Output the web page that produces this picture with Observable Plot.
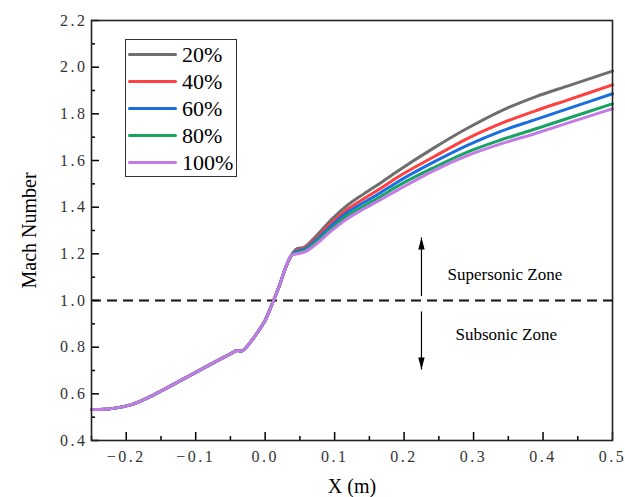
<!DOCTYPE html>
<html><head><meta charset="utf-8">
<script src="https://cdn.jsdelivr.net/npm/d3@7"></script>
<script src="https://cdn.jsdelivr.net/npm/@observablehq/plot@0.6"></script>
<style>
body{margin:0;background:#fff;}
#wrap{position:relative;width:625px;height:497px;background:#fff;}
#legend{position:absolute;left:125px;top:39px;width:112px;height:138px;border:1.5px solid #333;box-sizing:border-box;font-family:"Liberation Serif",serif;font-size:22px;color:#000;background:#fff;}
.row{position:absolute;left:2px;height:27px;display:flex;align-items:center;}
.sw{width:49px;height:3.5px;margin-right:5px;border-radius:2px;}
svg g[aria-label="y-axis tick label"] text, svg g[aria-label="x-axis tick label"] text{font-family:"Liberation Serif",serif;font-size:16px;letter-spacing:2.5px;fill:#333;}
svg g[aria-label="y-axis label"] text, svg g[aria-label="x-axis label"] text{font-family:"Liberation Serif",serif;font-size:20px;fill:#000;}
</style></head>
<body><div id="wrap"></div>
<script>
// ---- data ----
const xs = [-0.25,-0.23,-0.21,-0.19,-0.17,-0.15,-0.13,-0.11,-0.09,-0.07,-0.05,-0.04,-0.035,-0.02,-0.01,0,0.01,0.02,0.03,0.038,
            0.046,0.056,0.071,0.094,0.118,0.142,0.166,0.19,0.243,0.291,0.339,0.39,0.435,0.5];
const common = [0.533,0.534,0.542,0.556,0.582,0.612,0.644,0.676,0.708,0.740,0.771,0.786,0.783,0.826,0.868,0.915,0.985,1.060,1.145,1.195];
const tail20  = [1.222,1.228,1.269,1.343,1.407,1.457,1.504,1.553,1.654,1.738,1.812,1.874,1.919,1.983];
const tail40  = [1.216,1.224,1.260,1.328,1.390,1.436,1.480,1.527,1.616,1.694,1.758,1.814,1.859,1.924];
const tail60  = [1.212,1.219,1.253,1.317,1.377,1.420,1.462,1.507,1.594,1.665,1.725,1.776,1.821,1.886];
const tail80  = [1.206,1.213,1.245,1.305,1.363,1.405,1.446,1.489,1.570,1.636,1.688,1.736,1.780,1.843];
const tail100 = [1.200,1.207,1.236,1.295,1.350,1.393,1.432,1.472,1.557,1.621,1.671,1.717,1.760,1.822];
const seriesNames = ["20%","40%","60%","80%","100%"];
const seriesColors = ["#6e6e6e","#ff4040","#1a6ee0","#17a463","#c57be6"];
const xTicks = [-0.2,-0.1,0,0.1,0.2,0.3,0.4,0.5];
const xMinor = [-0.25,-0.15,-0.05,0.05,0.15,0.25,0.35,0.45];
const yTicks = [0.4,0.6,0.8,1.0,1.2,1.4,1.6,1.8,2.0,2.2];
const yMinor = [0.5,0.7,0.9,1.1,1.3,1.5,1.7,1.9,2.1];
const sonicLine = [1.0];
const arrowX = [0.225,0.225];
const arrowFrom = [1.019,0.953];
const arrowTo = [1.27,0.704];
const arrowRot = [0,180];
const zoneText = ["Supersonic Zone","Subsonic Zone"];
const zoneX = [0.345,0.347];
const zoneY = [1.11,0.854];

// ---- build ----
const tails = [tail20,tail40,tail60,tail80,tail100];
const rows = [];
seriesNames.forEach((s,i)=>{
  const ys = common.concat(tails[i]);
  xs.forEach((x,j)=>rows.push({x, y: ys[j], s}));
});
const arrows = arrowX.map((x,i)=>({x, y1: arrowFrom[i], y2: arrowTo[i], r: arrowRot[i]}));
const zones = zoneText.map((t,i)=>({t, x: zoneX[i], y: zoneY[i]}));
const head = {draw(c){ c.moveTo(0,0); c.lineTo(3.2,12); c.lineTo(-3.2,12); c.closePath(); }};

const chart = Plot.plot({
  width: 625, height: 497,
  marginLeft: 91, marginRight: 13, marginTop: 20, marginBottom: 57,
  style: {background: "#fff", fontFamily: "Liberation Serif, serif"},
  x: {domain: [-0.25, 0.5]},
  y: {domain: [0.4, 2.2]},
  color: {domain: seriesNames, range: seriesColors},
  marks: [
    Plot.ruleY(sonicLine, {stroke: "#111", strokeWidth: 2, strokeDasharray: "10,6"}),
    Plot.line(rows, {x: "x", y: "y", z: "s", stroke: "s", strokeWidth: 3, curve: "monotone-x"}),
    Plot.link(arrows, {x1: "x", x2: "x", y1: "y1", y2: "y2", stroke: "#000", strokeWidth: 1.2}),
    Plot.dot(arrows, {x: "x", y: "y2", symbol: head, rotate: "r", fill: "#000", stroke: "none", r: 4}),
    Plot.text(zones, {x: "x", y: "y", text: "t", fontSize: 17, fontFamily: "Liberation Serif, serif", fill: "#000"}),
    Plot.axisY(yMinor, {tickSize: -4, tickFormat: () => "", strokeWidth: 1.5, label: null}),
    Plot.axisX(xMinor, {tickSize: -4, tickFormat: () => "", strokeWidth: 1.5, label: null}),
    Plot.axisY(yTicks, {tickSize: -8, tickPadding: 12, tickFormat: d => d.toFixed(1), strokeWidth: 1.5,
      label: "Mach Number", labelAnchor: "center", labelOffset: 70, labelArrow: false}),
    Plot.axisX(xTicks, {tickSize: -8, tickPadding: 18, tickFormat: d3.format(".1f"), strokeWidth: 1.5,
      label: "X (m)", labelAnchor: "center", labelOffset: 52, labelArrow: false}),
    Plot.frame({stroke: "#222", strokeWidth: 1.6})
  ]
});
const wrap = document.getElementById("wrap");
wrap.appendChild(chart);

// legend
const lg = document.createElement("div");
lg.id = "legend";
seriesNames.forEach((s,i)=>{
  const r = document.createElement("div");
  r.className = "row";
  r.style.top = (1 + i*27) + "px";
  r.innerHTML = `<span class="sw" style="background:${seriesColors[i]}"></span><span>${s}</span>`;
  lg.appendChild(r);
});
wrap.appendChild(lg);
</script>
</body></html>
